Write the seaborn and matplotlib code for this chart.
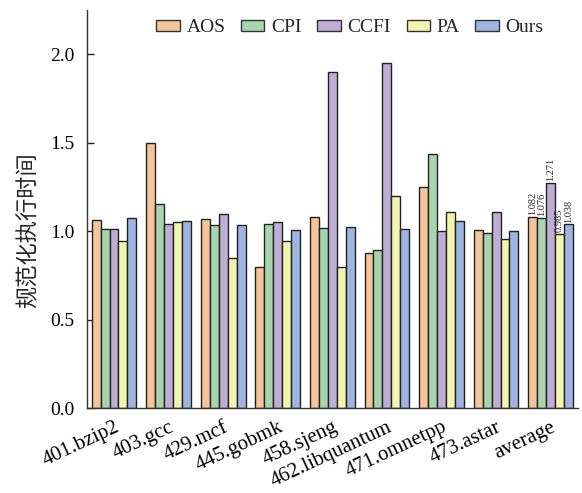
import matplotlib
matplotlib.use("Agg")
import matplotlib.pyplot as plt
import seaborn as sns
import pandas as pd

categories = ["401.bzip2", "403.gcc", "429.mcf", "445.gobmk", "458.sjeng",
              "462.libquantum", "471.omnetpp", "473.astar", "average"]
methods = ["AOS", "CPI", "CCFI", "PA", "Ours"]
aos = [1.062, 1.499, 1.070, 0.798, 1.080, 0.877, 1.250, 1.008, 1.082]
cpi = [1.011, 1.154, 1.034, 1.043, 1.020, 0.896, 1.437, 0.990, 1.076]
ccfi = [1.011, 1.038, 1.098, 1.049, 1.900, 1.951, 1.000, 1.109, 1.271]
pa = [0.947, 1.053, 0.847, 0.947, 0.797, 1.200, 1.109, 0.957, 0.985]
ours = [1.077, 1.060, 1.032, 1.008, 1.021, 1.011, 1.060, 1.002, 1.038]
avg_labels = ["1.082", "1.076", "1.271", "0.985", "1.038"]
colors = ["#F4C49A", "#A8D5AE", "#BFAED3", "#F2F5B0", "#A0B4E0"]

series = {"AOS": aos, "CPI": cpi, "CCFI": ccfi, "PA": pa, "Ours": ours}
rows = []
for m in methods:
    for c, v in zip(categories, series[m]):
        rows.append({"bench": c, "method": m, "value": v})
df = pd.DataFrame(rows)

sns.set_theme(style="ticks")
plt.rcParams["font.family"] = ["Liberation Serif", "Noto Sans CJK SC"]

fig = plt.figure(figsize=(5.82, 4.93), dpi=100)
ax = fig.add_axes([0.149, 0.172, 0.844, 0.808])
sns.barplot(data=df, x="bench", y="value", hue="method", order=categories,
            hue_order=methods, palette=colors, saturation=1, width=0.82,
            edgecolor="#222222", linewidth=1.0, ax=ax, errorbar=None)

ax.set_ylim(0, 2.25)
ax.set_xlim(-0.5, len(categories) - 0.5)
ax.set_yticks([0.0, 0.5, 1.0, 1.5, 2.0])
ax.set_yticklabels(["0.0", "0.5", "1.0", "1.5", "2.0"], fontsize=14)
ax.set_xticks(range(len(categories)))
ax.set_xticklabels(categories, rotation=25, ha="right", rotation_mode="anchor", fontsize=15)
ax.tick_params(axis="both", direction="in", length=5, width=1, colors="#222222")
ax.tick_params(axis="x", pad=7)
ax.tick_params(axis="y", pad=9)
for lab in ax.get_xticklabels() + ax.get_yticklabels():
    lab.set_color("black")
ax.set_xlabel("")
ax.set_ylabel("规范化执行时间", fontsize=16, family=["Noto Sans CJK SC"])
ax.yaxis.set_label_coords(-0.095, 0.447)
sns.despine(ax=ax, top=True, right=True)
for s in ["left", "bottom"]:
    ax.spines[s].set_color("#333333")
    ax.spines[s].set_linewidth(1.0)

# value labels on the average group
for i, cont in enumerate(ax.containers):
    bar = cont.patches[-1]
    ax.text(bar.get_x() + bar.get_width() / 2, bar.get_height() + 0.01, avg_labels[i],
            rotation=90, ha="center", va="bottom", fontsize=7.5)

leg = ax.legend(loc="center", bbox_to_anchor=(0.536, 0.955), ncol=5, frameon=False,
                fontsize=14, handlelength=1.2, handleheight=0.55, columnspacing=0.8,
                handletextpad=0.35, borderpad=0.2)
for h in leg.legend_handles:
    h.set_edgecolor("#333333")

fig.savefig("out.png", dpi=100)
